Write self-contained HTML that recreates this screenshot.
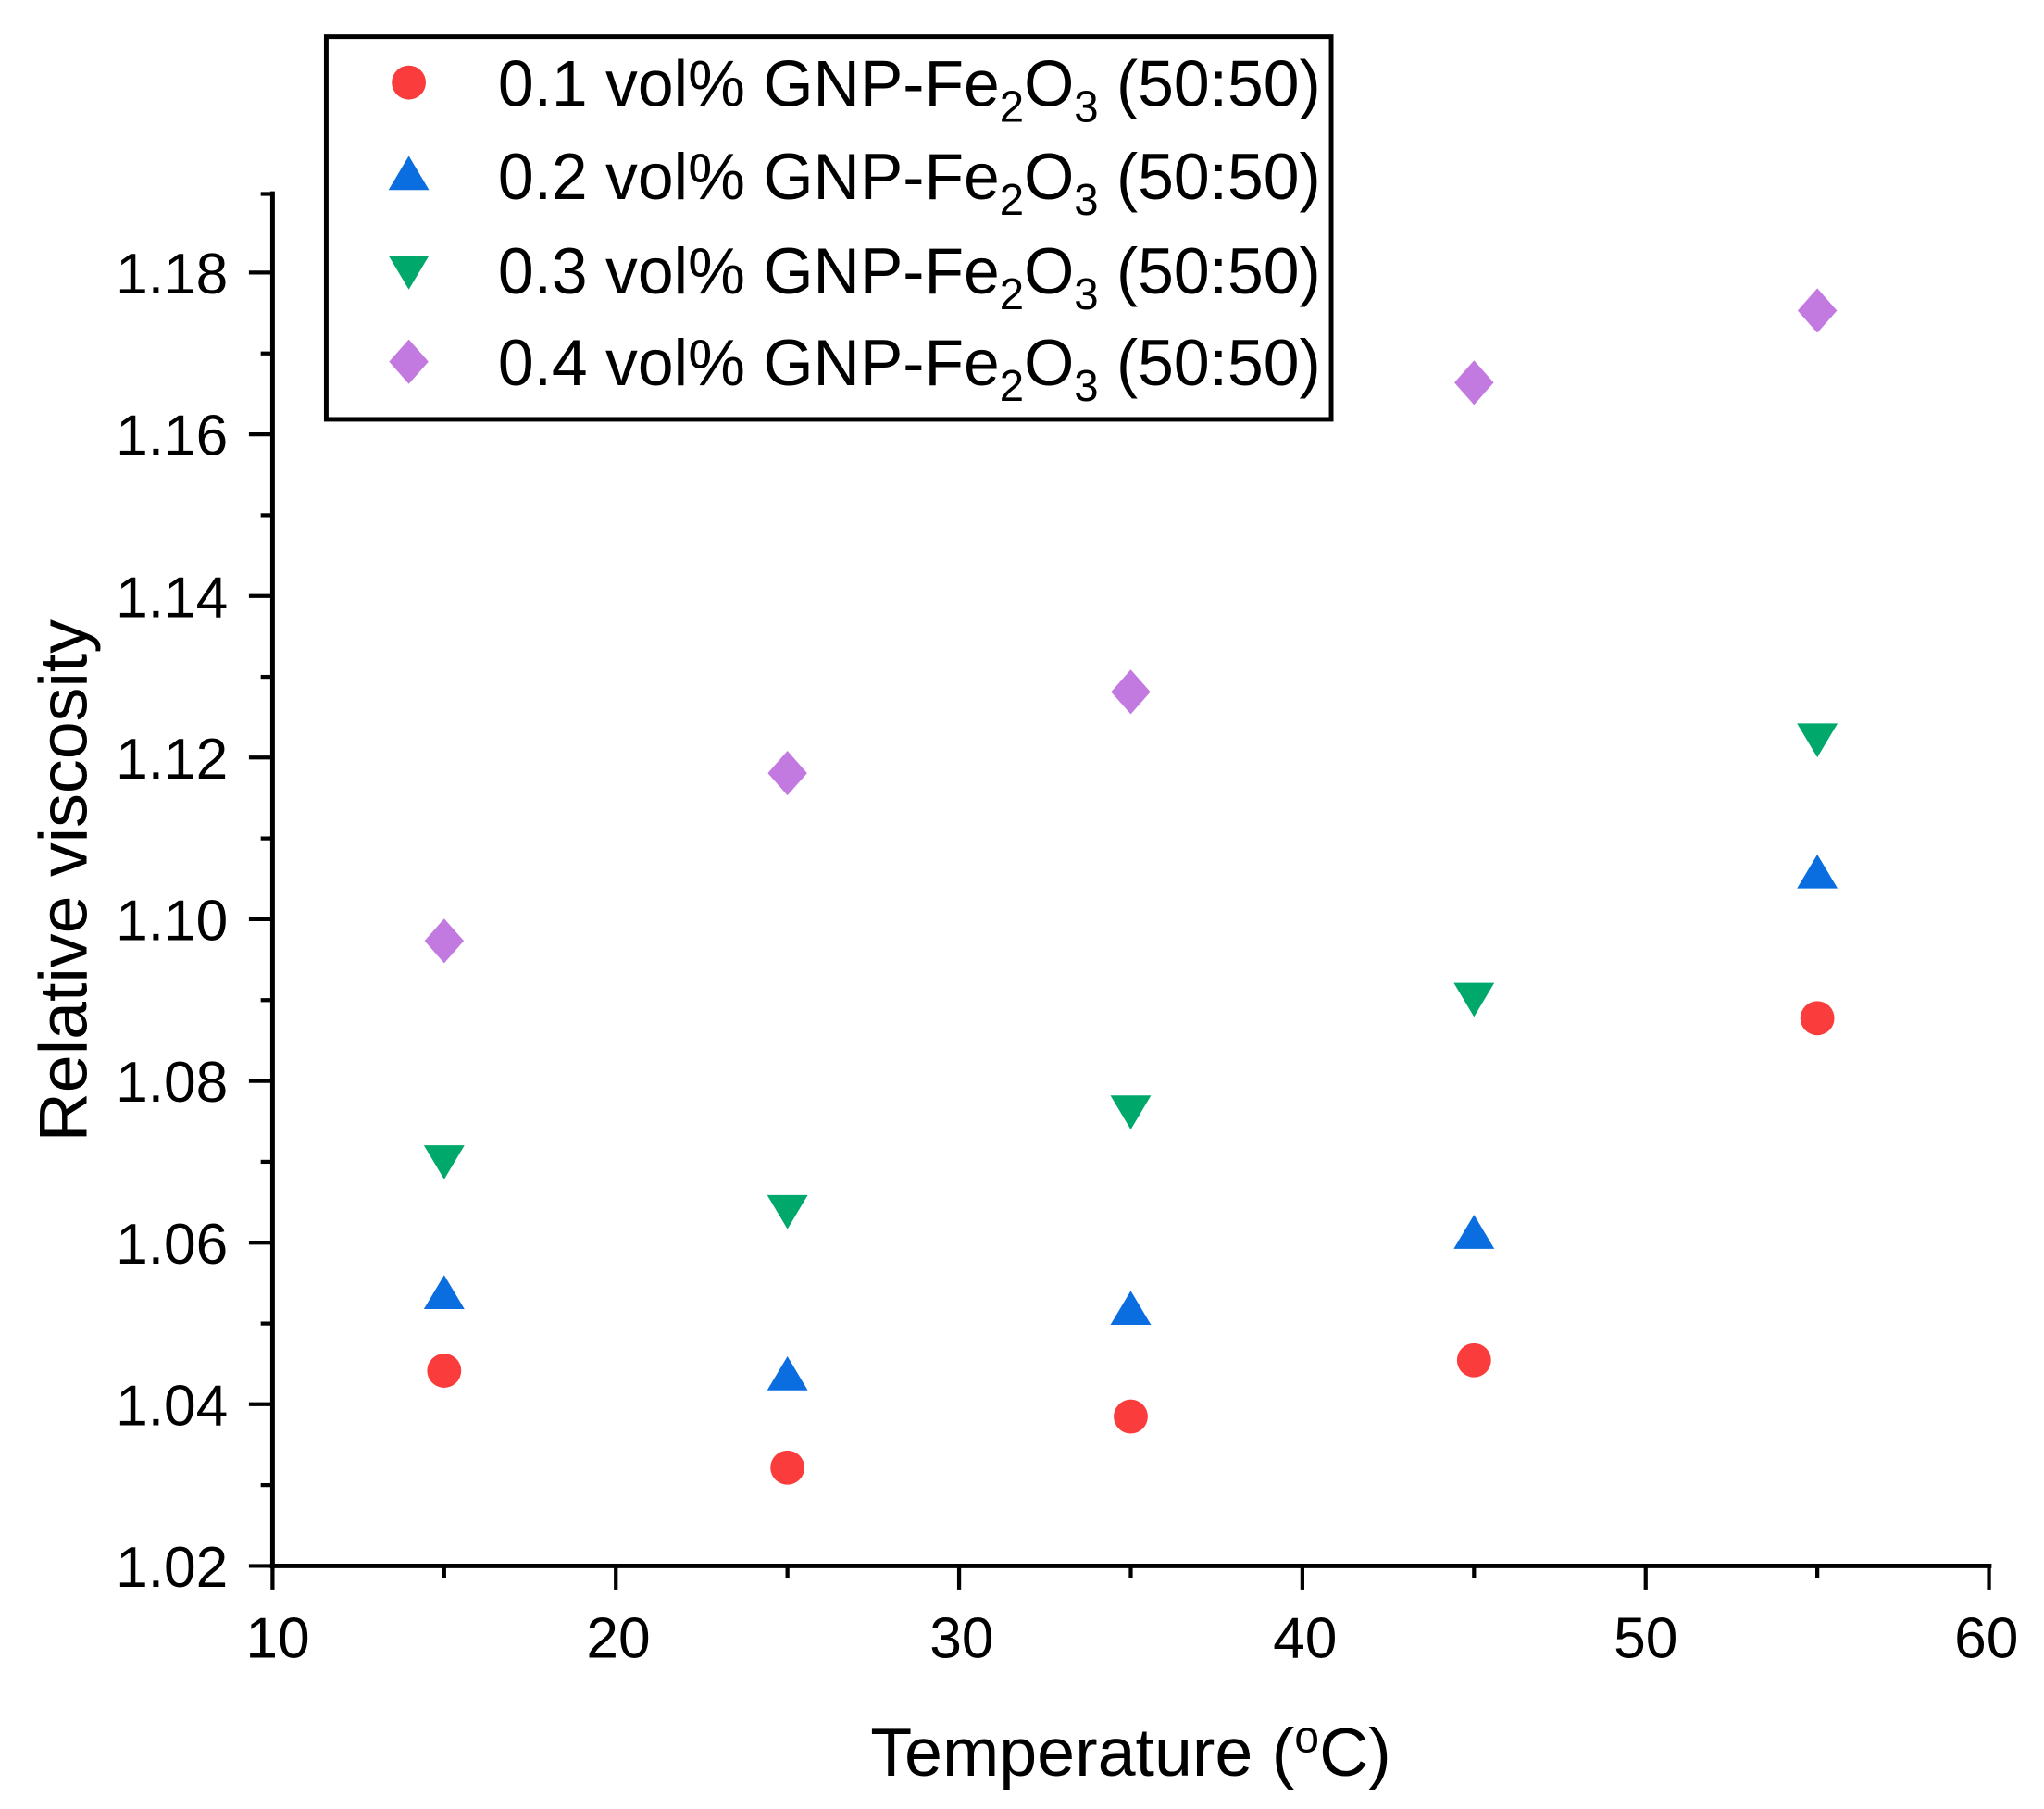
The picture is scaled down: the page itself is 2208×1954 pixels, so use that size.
<!DOCTYPE html>
<html><head><meta charset="utf-8"><style>
html,body{margin:0;padding:0;background:#fff}
svg{display:block}
text{font-family:"Liberation Sans",Arial,sans-serif;fill:#000}
</style></head><body>
<svg width="2208" height="1954" viewBox="0 0 1560 1380.5" preserveAspectRatio="none" xmlns="http://www.w3.org/2000/svg">
<defs>
<circle id="c" r="13" fill="#fa3c3c"/>
<polygon id="t" points="0,-15 15.5,11 -15.5,11" fill="#0a6ee0"/>
<polygon id="v" points="0,15 15.5,-11 -15.5,-11" fill="#00a86b"/>
<polygon id="d" points="0,-17 15,0 0,17 -15,0" fill="#c27ae0"/>
</defs>
<g stroke="#000" stroke-width="3.5" fill="none">
<line x1="208" y1="146" x2="208" y2="1197"/>
<line x1="206" y1="1195" x2="1520" y2="1195"/>
</g>
<g stroke="#000" stroke-width="3">
<line x1="190" y1="1195" x2="208" y2="1195"/>
<line x1="190" y1="1071.6" x2="208" y2="1071.6"/>
<line x1="190" y1="948.3" x2="208" y2="948.3"/>
<line x1="190" y1="824.9" x2="208" y2="824.9"/>
<line x1="190" y1="701.5" x2="208" y2="701.5"/>
<line x1="190" y1="578.1" x2="208" y2="578.1"/>
<line x1="190" y1="454.8" x2="208" y2="454.8"/>
<line x1="190" y1="331.4" x2="208" y2="331.4"/>
<line x1="190" y1="208" x2="208" y2="208"/>
<line x1="199" y1="1133.3" x2="208" y2="1133.3"/>
<line x1="199" y1="1010" x2="208" y2="1010"/>
<line x1="199" y1="886.6" x2="208" y2="886.6"/>
<line x1="199" y1="763.2" x2="208" y2="763.2"/>
<line x1="199" y1="639.8" x2="208" y2="639.8"/>
<line x1="199" y1="516.5" x2="208" y2="516.5"/>
<line x1="199" y1="393.1" x2="208" y2="393.1"/>
<line x1="199" y1="269.7" x2="208" y2="269.7"/>
<line x1="199" y1="148" x2="208" y2="148"/>
<line x1="208" y1="1195" x2="208" y2="1213"/>
<line x1="470" y1="1195" x2="470" y2="1213"/>
<line x1="732" y1="1195" x2="732" y2="1213"/>
<line x1="994" y1="1195" x2="994" y2="1213"/>
<line x1="1256" y1="1195" x2="1256" y2="1213"/>
<line x1="1518" y1="1195" x2="1518" y2="1213"/>
<line x1="339" y1="1195" x2="339" y2="1204"/>
<line x1="601" y1="1195" x2="601" y2="1204"/>
<line x1="863" y1="1195" x2="863" y2="1204"/>
<line x1="1125" y1="1195" x2="1125" y2="1204"/>
<line x1="1387" y1="1195" x2="1387" y2="1204"/>
</g>
<g font-size="44" text-anchor="end">
<text x="174" y="1211">1.02</text>
<text x="174" y="1087.6">1.04</text>
<text x="174" y="964.3">1.06</text>
<text x="174" y="840.9">1.08</text>
<text x="174" y="717.5">1.10</text>
<text x="174" y="594.1">1.12</text>
<text x="174" y="470.8">1.14</text>
<text x="174" y="347.4">1.16</text>
<text x="174" y="224">1.18</text>
</g>
<g font-size="44" text-anchor="middle">
<text x="212" y="1265">10</text>
<text x="472" y="1265">20</text>
<text x="734" y="1265">30</text>
<text x="996" y="1265">40</text>
<text x="1256" y="1265">50</text>
<text x="1516" y="1265">60</text>
</g>
<text x="863" y="1355" font-size="52" text-anchor="middle">Temperature (<tspan font-size="34" dy="-18">o</tspan><tspan dy="18">C)</tspan></text>
<text transform="translate(66,672) rotate(-90)" font-size="52" text-anchor="middle">Relative viscosity</text>
<g>
<use href="#c" x="339" y="1046"/><use href="#c" x="601" y="1120"/><use href="#c" x="863" y="1081"/><use href="#c" x="1125" y="1038"/><use href="#c" x="1387" y="777"/>
<use href="#t" x="339" y="988"/><use href="#t" x="601" y="1050"/><use href="#t" x="863" y="1000"/><use href="#t" x="1125" y="942"/><use href="#t" x="1387" y="667"/>
<use href="#v" x="339" y="885"/><use href="#v" x="601" y="923"/><use href="#v" x="863" y="847"/><use href="#v" x="1125" y="761"/><use href="#v" x="1387" y="563"/>
<use href="#d" x="339" y="718"/><use href="#d" x="601" y="590"/><use href="#d" x="863" y="528"/><use href="#d" x="1125" y="292"/><use href="#d" x="1387" y="237"/>
</g>
<rect x="249" y="28" width="767" height="292" fill="#fff" stroke="#000" stroke-width="3.5"/>
<use href="#c" x="312" y="63"/>
<use href="#t" x="312" y="134"/>
<use href="#v" x="312" y="206"/>
<use href="#d" x="312" y="276"/>
<g font-size="50">
<text x="380" y="81" textLength="628" lengthAdjust="spacingAndGlyphs">0.1 vol% GNP-Fe<tspan font-size="34" dy="12">2</tspan><tspan dy="-12">O</tspan><tspan font-size="34" dy="12">3</tspan><tspan dy="-12"> (50:50)</tspan></text>
<text x="380" y="152" textLength="628" lengthAdjust="spacingAndGlyphs">0.2 vol% GNP-Fe<tspan font-size="34" dy="12">2</tspan><tspan dy="-12">O</tspan><tspan font-size="34" dy="12">3</tspan><tspan dy="-12"> (50:50)</tspan></text>
<text x="380" y="224" textLength="628" lengthAdjust="spacingAndGlyphs">0.3 vol% GNP-Fe<tspan font-size="34" dy="12">2</tspan><tspan dy="-12">O</tspan><tspan font-size="34" dy="12">3</tspan><tspan dy="-12"> (50:50)</tspan></text>
<text x="380" y="294" textLength="628" lengthAdjust="spacingAndGlyphs">0.4 vol% GNP-Fe<tspan font-size="34" dy="12">2</tspan><tspan dy="-12">O</tspan><tspan font-size="34" dy="12">3</tspan><tspan dy="-12"> (50:50)</tspan></text>
</g>
</svg>
</body></html>
